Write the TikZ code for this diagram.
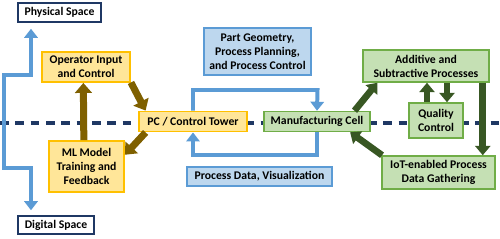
\documentclass[tikz,border=0pt]{standalone}
\usepackage{fontspec}
\setmainfont{Carlito}
\usepackage{xcolor}
\usepackage{tikz}
\usetikzlibrary{arrows.meta, positioning}
\definecolor{dtYellow}{RGB}{255,230,153}
\definecolor{dtGold}{RGB}{255,192,0}
\definecolor{dtBrown}{RGB}{127,96,0}
\definecolor{dtGreen}{RGB}{197,224,180}
\definecolor{dtGreenLine}{RGB}{112,173,71}
\definecolor{dtGreenDark}{RGB}{56,87,35}
\definecolor{dtBlue}{RGB}{189,215,238}
\definecolor{dtBlueLine}{RGB}{91,155,213}
\definecolor{dtNavy}{RGB}{31,56,100}

\begin{document}
\begin{tikzpicture}[
    x=0.03cm, y=-0.03cm,
    box/.style={align=center, font=\bfseries\fontsize{10}{12}\selectfont, inner sep=1pt},
    space/.style={box, draw=dtNavy, fill=white, line width=1.3pt},
    ctrl/.style={box, draw=dtGold, fill=dtYellow, line width=1.6pt},
    info/.style={box, draw=dtBlueLine, fill=dtBlue, line width=1.1pt},
    cell/.style={box, draw=dtGreenLine, fill=dtGreen, line width=1.3pt},
    flow/.style={-{Triangle[width=0.4cm,length=0.27cm]}, line width=3.4pt, draw=dtBlueLine},
    brownarr/.style={-{Triangle[width=0.5cm,length=0.3cm]}, line width=0.21cm, draw=dtBrown},
    greenarr/.style={-{Triangle[width=0.45cm,length=0.28cm]}, line width=0.2cm, draw=dtGreenDark},
    divider/.style={draw=dtNavy, line width=2.6pt, dash pattern=on 0.26cm off 0.2cm}
  ]
    \useasboundingbox (0,0) rectangle (500,238);
    % divider between physical and digital
    \coordinate (dl) at (0,123);
    \coordinate (dr) at (500,123);
    \draw[divider] (dl) -- (dr);

    \node[space, minimum width=2.49cm, minimum height=0.57cm] (phys) at (59.5,12.5) {Physical Space};
    \node[space, minimum width=2.28cm, minimum height=0.54cm] (dig) at (56,225) {Digital Space};

    \node[ctrl, minimum width=2.64cm, minimum height=0.9cm] (oper) at (86,67) {Operator Input\\and Control};
    \node[ctrl, minimum width=2.25cm, minimum height=1.53cm] (ml) at (86.5,166.5) {ML Model\\Training and\\Feedback};
    \node[ctrl, minimum width=3.24cm, minimum height=0.6cm] (pc) at (193,121.5) {PC / Control Tower};

    \node[info, minimum width=3.21cm, minimum height=1.41cm] (geom) at (257.5,51.5) {Part Geometry,\\Process Planning,\\and Process Control};
    \node[info, minimum width=4.35cm, minimum height=0.57cm] (pdata) at (259.5,176.5) {Process Data, Visualization};

    \node[cell, minimum width=3.18cm, minimum height=0.6cm] (mfg) at (317,121.5) {Manufacturing Cell};
    \node[cell, minimum width=3.78cm, minimum height=0.96cm] (addsub) at (426,66) {Additive and\\Subtractive Processes};
    \node[cell, minimum width=1.62cm, minimum height=1.05cm] (qc) at (436,120.5) {Quality\\Control};
    \node[cell, minimum width=3.39cm, minimum height=0.99cm] (iot) at (438.5,172.5) {IoT-enabled Process\\Data Gathering};

    % physical / digital arrows
    \coordinate (lu) at (31,75);
    \coordinate (ll) at (31,168);
    \draw[flow, {Triangle[width=0.4cm,length=0.27cm]}-{Triangle[width=0.4cm,length=0.27cm]}, shorten <=0.18cm, shorten >=0.15cm]
      (phys.south -| lu) -- (lu) -- ++(-27,0) |- (ll) -- (dig.north -| ll);

    % loop between control tower and cell
    \coordinate (looptop) at (317.5,90);
    \coordinate (loopbot) at (193,155);
    \draw[flow] (pc.north) |- (looptop) -- (mfg.north);
    \draw[flow] (mfg.south) |- (loopbot) -- (pc.south);

    \draw[brownarr] (oper.-19) -- (pc.167);
    \draw[brownarr] (pc.193) -- (ml.17);
    \draw[brownarr] ([xshift=-0.08cm]ml.north) -- ([xshift=-0.08cm]oper.south);

    \draw[greenarr] (mfg.16) -- (addsub.199);
    \draw[greenarr] (iot.163) -- (mfg.-18);
    \draw[greenarr] ([xshift=-0.27cm]qc.north) -- ([xshift=-0.27cm]qc.north |- addsub.south);
    \draw[greenarr] ([xshift=0.33cm]qc.north |- addsub.south) -- ([xshift=0.33cm]qc.north);
    \draw[greenarr] ([xshift=-0.21cm]addsub.south east) -- ([xshift=-0.21cm]addsub.south east |- iot.north);
  \end{tikzpicture}
\end{document}
